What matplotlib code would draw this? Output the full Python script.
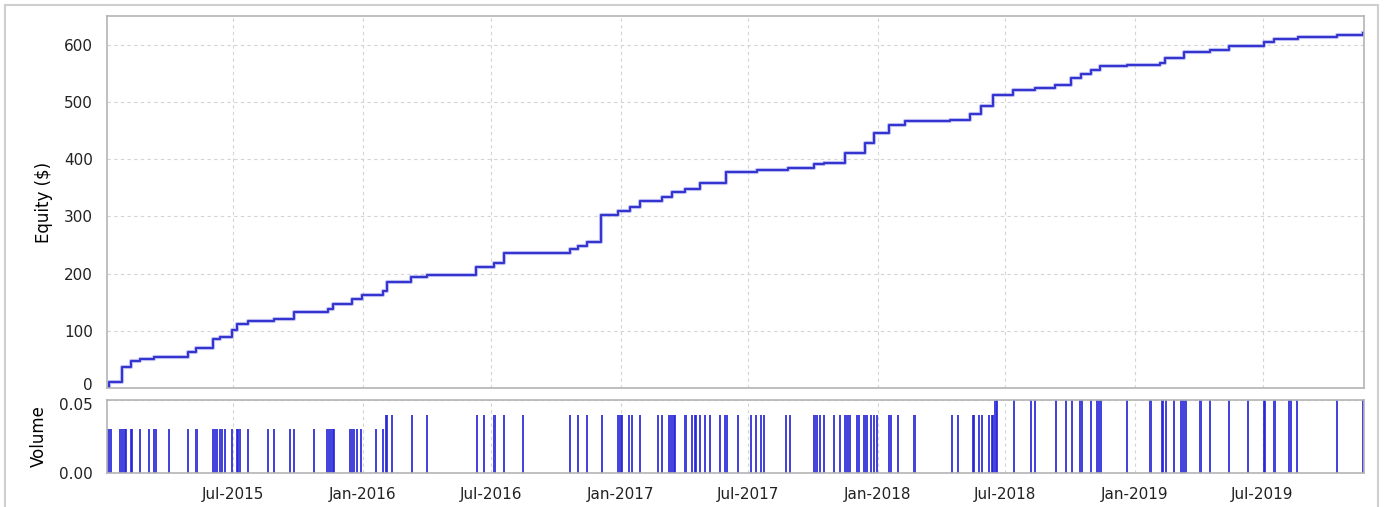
import matplotlib
matplotlib.use("Agg")
import matplotlib.pyplot as plt
import matplotlib.dates as mdates
import matplotlib.transforms as mtransforms
from matplotlib.patches import Rectangle
import pandas as pd

# equity curve (steps)
equity_dates = [
    "2015-01-03", "2015-01-06", "2015-01-25", "2015-02-06", "2015-02-19", "2015-03-11",
    "2015-04-28", "2015-05-09", "2015-06-03", "2015-06-12", "2015-06-30", "2015-07-07",
    "2015-07-22", "2015-08-28", "2015-09-25", "2015-11-12", "2015-11-20", "2015-12-17",
    "2015-12-31", "2016-01-30", "2016-02-05", "2016-03-10", "2016-04-01", "2016-06-10",
    "2016-07-05", "2016-07-19", "2016-10-21", "2016-11-01", "2016-11-14", "2016-12-04",
    "2016-12-28", "2017-01-15", "2017-01-28", "2017-03-01", "2017-03-15", "2017-04-03",
    "2017-04-24", "2017-05-31", "2017-07-14", "2017-08-27", "2017-10-03", "2017-10-16",
    "2017-11-16", "2017-12-14", "2017-12-27", "2018-01-17", "2018-02-09", "2018-04-14",
    "2018-05-12", "2018-05-27", "2018-06-13", "2018-07-12", "2018-08-12", "2018-09-10",
    "2018-10-02", "2018-10-16", "2018-10-30", "2018-11-13", "2018-12-21", "2019-02-06",
    "2019-02-13", "2019-03-11", "2019-04-18", "2019-05-14", "2019-07-03", "2019-07-18",
    "2019-08-20", "2019-10-15", "2019-11-21",
]
equity_values = [
    0, 10, 37, 47, 51, 55,
    63, 70, 85, 90, 101, 112,
    117, 121, 132, 138, 146, 155,
    163, 170, 185, 194, 198, 212,
    218, 236, 243, 249, 256, 303,
    310, 316, 326, 333, 342, 347,
    358, 377, 381, 385, 391, 394,
    411, 428, 445, 460, 466, 468,
    478, 493, 512, 521, 525, 530,
    542, 549, 555, 562, 565, 568,
    577, 587, 591, 597, 604, 609,
    614, 617, 620,
]

# trade volumes
vol_dates_003 = [
    "2015-01-05", "2015-01-08", "2015-01-21", "2015-01-25", "2015-01-28", "2015-01-30",
    "2015-02-06", "2015-02-08", "2015-02-19", "2015-03-03", "2015-03-11", "2015-03-13",
    "2015-04-01", "2015-04-28", "2015-05-10", "2015-06-03", "2015-06-05", "2015-06-08",
    "2015-06-12", "2015-06-15", "2015-06-20", "2015-06-30", "2015-07-06", "2015-07-08",
    "2015-07-11", "2015-07-22", "2015-08-19", "2015-08-28", "2015-09-20", "2015-09-26",
    "2015-10-24", "2015-11-12", "2015-11-15", "2015-11-19", "2015-11-21", "2015-12-14",
    "2015-12-17", "2015-12-20", "2015-12-24", "2015-12-30", "2016-01-20", "2016-01-30",
]
vol_dates_004 = [
    "2016-02-03", "2016-02-05", "2016-02-11", "2016-03-11", "2016-04-01", "2016-06-11",
    "2016-06-21", "2016-07-06", "2016-07-19", "2016-08-16", "2016-10-21", "2016-11-01",
    "2016-11-14", "2016-12-06", "2016-12-29", "2017-01-01", "2017-01-03", "2017-01-13",
    "2017-01-17", "2017-01-29", "2017-02-23", "2017-03-01", "2017-03-11", "2017-03-14",
    "2017-03-17", "2017-03-19", "2017-04-03", "2017-04-12", "2017-04-16", "2017-04-18",
    "2017-04-24", "2017-05-01", "2017-05-08", "2017-05-22", "2017-05-29", "2017-06-01",
    "2017-06-17", "2017-07-05", "2017-07-12", "2017-07-19", "2017-07-23", "2017-08-24",
    "2017-08-30", "2017-10-03", "2017-10-06", "2017-10-11", "2017-10-17", "2017-10-31",
    "2017-11-08", "2017-11-16", "2017-11-19", "2017-11-22", "2017-12-02", "2017-12-05",
    "2017-12-13", "2017-12-16", "2017-12-22", "2017-12-27", "2017-12-31", "2018-01-17",
    "2018-01-20", "2018-01-30", "2018-02-22", "2018-04-16", "2018-04-25", "2018-05-16",
    "2018-05-18", "2018-05-24", "2018-05-29", "2018-06-08", "2018-06-12", "2018-06-14",
]
vol_dates_005 = [
    "2018-06-17", "2018-06-19", "2018-07-13", "2018-08-07", "2018-08-12", "2018-09-11",
    "2018-09-25", "2018-10-03", "2018-10-15", "2018-10-18", "2018-10-30", "2018-11-08",
    "2018-11-11", "2018-11-14", "2018-12-21", "2019-01-23", "2019-02-08", "2019-02-10",
    "2019-02-14", "2019-02-25", "2019-03-08", "2019-03-11", "2019-03-14", "2019-04-04",
    "2019-04-18", "2019-05-15", "2019-06-11", "2019-07-03", "2019-07-05", "2019-07-18",
    "2019-08-07", "2019-08-11", "2019-08-19", "2019-10-15", "2019-11-21",
]
vol_dates = vol_dates_003 + vol_dates_004 + vol_dates_005
vol_values = [0.03] * len(vol_dates_003) + [0.04] * len(vol_dates_004) + [0.05] * len(vol_dates_005)

x_start, x_end = "2015-01-03", "2019-11-22"

eq = pd.DataFrame({"date": pd.to_datetime(equity_dates), "equity": equity_values})
vol = pd.DataFrame({"date": pd.to_datetime(vol_dates), "volume": vol_values})

plt.rcParams["font.family"] = ["DejaVu Sans"]
fig = plt.figure(figsize=(13.86, 5.07), dpi=100)

line_col = "#3434cf"
spine_col = "#b4b4b4"
grid_col = "#d4d4d4"

ax1 = fig.add_axes([0.0772, 0.2347, 0.9069, 0.7337])
ax2 = fig.add_axes([0.0772, 0.067, 0.9069, 0.144], sharex=ax1)

ax1.step(eq["date"], eq["equity"], where="post", color="#9a9af0", lw=3.0, alpha=0.6)
ax1.step(eq["date"], eq["equity"], where="post", color=line_col, lw=1.5)
ax1.set_ylim(0, 650)
ax1.set_yticks([0, 100, 200, 300, 400, 500, 600])
ax1.set_ylabel("Equity ($)", fontsize=12, labelpad=8)

ax2.bar(vol["date"], vol["volume"], width=3.0, color="#2424d8", alpha=0.85, linewidth=0)
ax2.set_ylim(0, 0.05)
ax2.set_yticks([0.0, 0.05])
ax2.set_yticklabels(["0.00", "0.05"])
ax2.set_ylabel("Volume", fontsize=12, labelpad=8)

ax1.set_xlim(pd.Timestamp(x_start), pd.Timestamp(x_end))
ax2.xaxis.set_major_locator(mdates.MonthLocator(bymonth=[1, 7]))
ax2.xaxis.set_major_formatter(mdates.DateFormatter("%b-%Y"))
plt.setp(ax1.get_xticklabels(), visible=False)

for ax in (ax1, ax2):
    ax.grid(True, color=grid_col, linestyle=(0, (3, 3)), linewidth=0.8)
    ax.set_axisbelow(True)
    ax.tick_params(length=0, labelsize=11, colors="#222222", pad=10)
    for s in ax.spines.values():
        s.set_color(spine_col)
        s.set_linewidth(1.2)

# keep "0" (top panel) and "0.05" (bottom panel) from colliding
fig.canvas.draw()
up = mtransforms.ScaledTranslation(0, 4 / 100, fig.dpi_scale_trans)
down = mtransforms.ScaledTranslation(0, -4 / 100, fig.dpi_scale_trans)
lab0 = ax1.get_yticklabels()[0]
lab0.set_transform(lab0.get_transform() + up)
lab5 = ax2.get_yticklabels()[-1]
lab5.set_transform(lab5.get_transform() + down)

# outer frame
fig.patches.append(Rectangle((5 / 1386, -0.02), 1373 / 1386, 1.02 - 5 / 507,
                             transform=fig.transFigure, fill=False,
                             edgecolor="#cfcfcf", linewidth=1.5))

fig.savefig("out.png", dpi=100)
